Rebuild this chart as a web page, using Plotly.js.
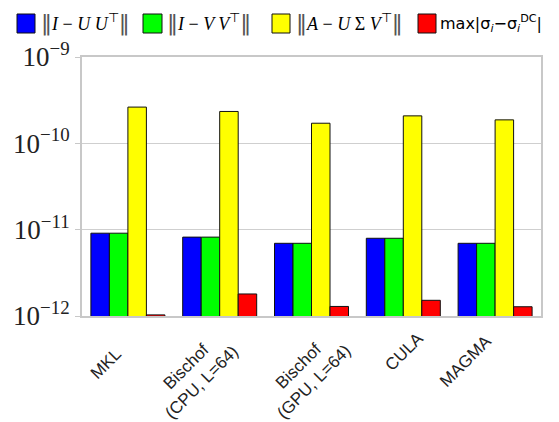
<!DOCTYPE html>
<html>
<head>
<meta charset="utf-8">
<script src="https://cdn.plot.ly/plotly-3.0.1.min.js"></script>
<style>
  html, body { margin: 0; padding: 0; background: #fff; }
  #chart { width: 559px; height: 422px; }
</style>
</head>
<body>
<div id="chart"></div>
<script>
// Solvers compared
const solvers = ['MKL', 'Bischof (CPU, L=64)', 'Bischof (GPU, L=64)', 'CULA', 'MAGMA'];
const solverLabels = ['MKL', 'Bischof<br>(CPU, L=64)', 'Bischof<br>(GPU, L=64)', 'CULA', 'MAGMA'];

// Orthogonality of U: ||I - U U^T||
const orthU = [9.1e-12, 8.2e-12, 6.95e-12, 7.95e-12, 6.95e-12];
// Orthogonality of V: ||I - V V^T||
const orthV = [9.1e-12, 8.2e-12, 6.95e-12, 7.95e-12, 6.95e-12];
// Reconstruction residual: ||A - U S V^T||
const resid = [2.63e-10, 2.34e-10, 1.71e-10, 2.08e-10, 1.87e-10];
// Max singular value deviation from divide-and-conquer reference
const sigmaErr = [1.03e-12, 1.8e-12, 1.29e-12, 1.52e-12, 1.28e-12];

// Y axis decades
const yTickVals = [1e-12, 1e-11, 1e-10, 1e-9];
const yTickText = ['10<sup>−12</sup>', '10<sup>−11</sup>', '10<sup>−10</sup>', '10<sup>−9</sup>'];

// Legend entries
const legendColors = ['#0000ff', '#00ff00', '#ffff00', '#ff0000'];
const bar = '<span style="font-family:DejaVu Sans;font-size:22px;color:#555">‖</span>';
const legendTexts = [
  bar + '<i>I</i> − <i>U U</i><sup>⊤</sup>' + bar,
  bar + '<i>I</i> − <i>V V</i><sup>⊤</sup>' + bar,
  bar + '<i>A</i> − <i>U</i> Σ <i>V</i><sup>⊤</sup>' + bar,
  'max|σ<sub><i>i</i></sub>−σ<sub><i>i</i></sub><sup>DC</sup>|'
];

const seriesData = [orthU, orthV, resid, sigmaErr];
const traces = seriesData.map((vals, k) => ({
  type: 'bar',
  x: solvers,
  y: vals,
  marker: { color: legendColors[k], line: { color: '#111', width: 1 } },
  showlegend: false,
  hoverinfo: 'y'
}));

// Plot area geometry (px) used to position the hand-built legend
const L = 82, T = 57, W = 459, H = 259;
const px2x = p => (p - L) / W;
const py2y = p => (T + H - p) / H;

const legendSquares = [[17, 35], [143, 162], [272, 290], [418, 436]];
const legendTextX = [39, 165, 294, 438];
const legendFonts = [
  { family: 'Liberation Serif', size: 18, color: '#000' },
  { family: 'Liberation Serif', size: 18, color: '#000' },
  { family: 'Liberation Serif', size: 18, color: '#000' },
  { family: 'DejaVu Sans', size: 16, color: '#000' }
];

const shapes = legendSquares.map((s, k) => ({
  type: 'rect', xref: 'paper', yref: 'paper',
  x0: px2x(s[0]), x1: px2x(s[1]), y0: py2y(33), y1: py2y(14),
  fillcolor: legendColors[k], line: { color: '#111', width: 1 }
}));

const legendAnn = legendTexts.map((t, k) => ({
  text: t, xref: 'paper', yref: 'paper',
  x: px2x(legendTextX[k]), y: py2y(23),
  xanchor: 'left', yanchor: 'middle', showarrow: false,
  font: legendFonts[k]
}));

// Rotated category labels below the axis (offsets in px from each category)
const labelDX = [-22, -26, -6, 1, -30];
const labelDY = [-47, -58, -58, -35, -45];
const catAnn = solvers.map((s, k) => ({
  text: solverLabels[k], xref: 'x', yref: 'paper',
  x: s, y: 0, xshift: labelDX[k], yshift: labelDY[k],
  xanchor: 'center', yanchor: 'middle', align: 'center',
  textangle: -45, showarrow: false,
  font: { family: 'Liberation Sans', size: 17, color: '#222' }
}));

const layout = {
  width: 559, height: 422,
  margin: { l: L, r: 559 - L - W, t: T, b: 422 - T - H, pad: 0 },
  paper_bgcolor: '#fff', plot_bgcolor: '#fff',
  barmode: 'group', bargap: 0.194, bargroupgap: 0,
  xaxis: {
    showticklabels: false,
    showline: true, linecolor: '#c8c8c8', linewidth: 2, mirror: true,
    ticks: '', showgrid: false
  },
  yaxis: {
    type: 'log', range: [-12, -9],
    tickmode: 'array', tickvals: yTickVals, ticktext: yTickText,
    tickfont: { family: 'Liberation Serif', size: 27, color: '#222' },
    ticks: 'outside', ticklen: 5, tickcolor: '#c8c8c8', tickwidth: 1,
    showgrid: true, gridcolor: '#cfcfcf', gridwidth: 1,
    showline: true, linecolor: '#c8c8c8', linewidth: 2, mirror: true,
    zeroline: false
  },
  shapes: shapes,
  annotations: legendAnn.concat(catAnn)
};

Plotly.newPlot('chart', traces, layout, { displayModeBar: false, staticPlot: true });
</script>
</body>
</html>
